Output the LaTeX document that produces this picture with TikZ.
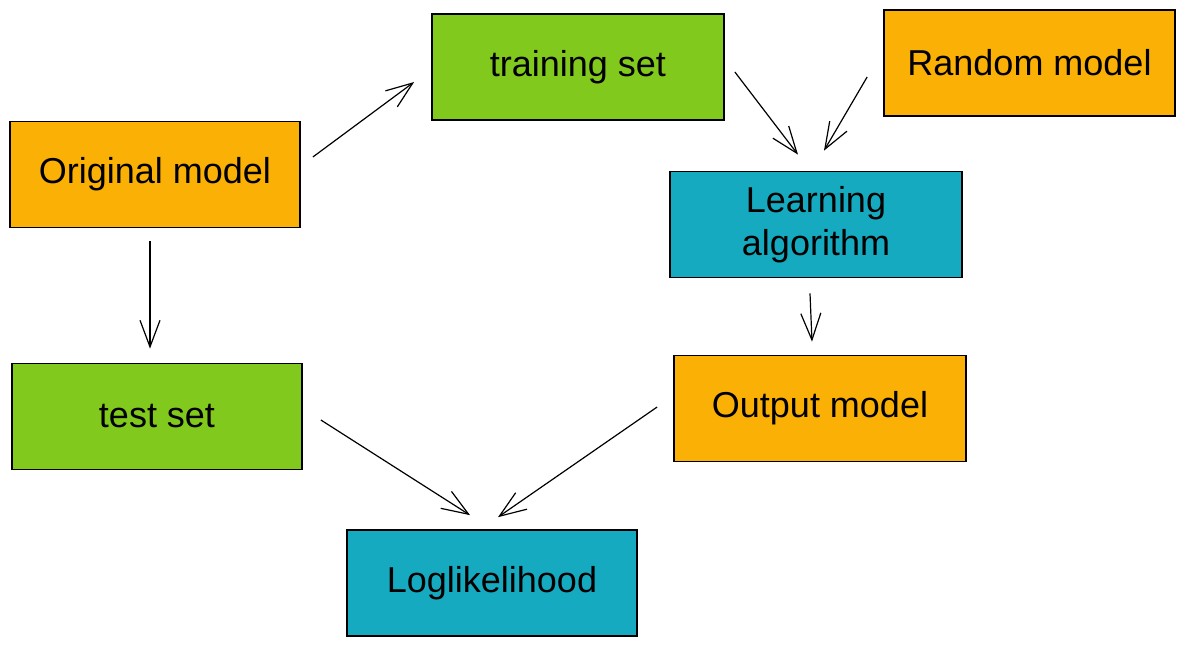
\documentclass[tikz,border=0pt]{standalone}
\usepackage{fontspec}
\setmainfont{Liberation Sans}
\usetikzlibrary{arrows.meta,calc}
\definecolor{cOrange}{HTML}{FAB005}
\definecolor{cGreen}{HTML}{82C91E}
\definecolor{cBlue}{HTML}{15AABF}
\tikzset{
  box/.style={draw=black, line width=1.3pt, minimum width=#1*0.75pt, minimum height=106*0.75pt, inner sep=0pt, align=center,
    font=\fontsize{27}{32}\selectfont},
  box/.default=291,
  conn/.style={draw=black, line width=0.9pt, -{Straight Barb[length=20pt,width=15pt,line width=0.9pt]}}
}
\begin{document}
\begin{tikzpicture}[x=0.75pt,y=-0.75pt]
\useasboundingbox (0,0) rectangle (1185,646);
\node[box=290, fill=cOrange] (orig) at (155,174.5) {Original model};
\node[box=292, fill=cGreen] (train) at (578,67) {training set};
\node[box=291, fill=cOrange] (random) at (1029.5,63) {Random model};
\node[box=292, fill=cBlue] (learn) at (816,224.5) {Learning\\algorithm};
\node[box=290, fill=cGreen] (test) at (157,416.5) {test set};
\node[box=292, fill=cOrange] (output) at (820,408.5) {Output model};
\node[box=290, fill=cBlue] (loglik) at (492,583) {Loglikelihood};

\draw[conn] ($(orig.east)+(12,-17.5)$) -- ($(train.west)+(-17,15)$);
\draw[conn] ($(orig.south)+(-5,13)$) -- ($(test.north)+(-7,-14)$);
\draw[conn] ($(train.east)+(10,5)$) -- ($(learn.north)+(-18,-16)$);
\draw[conn] ($(random.west)+(-16,14)$) -- ($(learn.north)+(8,-20)$);
\draw[conn] ($(learn.south)+(-6,15)$) -- ($(output.north)+(-8,-13)$);
\draw[conn] ($(test.east)+(18,3.5)$) -- ($(loglik.north)+(-22,-14)$);
\draw[conn] ($(output.west)+(-16,-1.5)$) -- ($(loglik.north)+(6,-12)$);
\end{tikzpicture}
\end{document}
